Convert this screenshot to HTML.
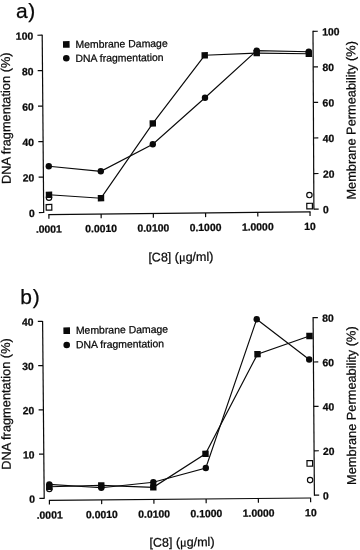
<!DOCTYPE html>
<html><head><meta charset="utf-8"><title>Figure</title>
<style>
html,body{margin:0;padding:0;background:#fff;}
body{width:360px;height:550px;overflow:hidden;}
svg{display:block;will-change:transform;opacity:0.999;filter:blur(0.35px);}
text{font-family:"Liberation Sans",sans-serif;fill:#0a0a0a;stroke:#0a0a0a;stroke-width:0.25px;}
</style></head><body>
<svg width="360" height="550" viewBox="0 0 360 550">
<rect x="0" y="0" width="360" height="550" fill="#fff"/>
<line x1="42.20" y1="34.70" x2="43.70" y2="213.00" stroke="#0a0a0a" stroke-width="1.2"/>
<line x1="313.00" y1="30.80" x2="313.90" y2="209.60" stroke="#0a0a0a" stroke-width="1.2"/>
<line x1="48.40" y1="214.60" x2="310.50" y2="211.80" stroke="#0a0a0a" stroke-width="1.2"/>
<line x1="42.20" y1="35.20" x2="37.40" y2="35.26" stroke="#0a0a0a" stroke-width="1.2"/>
<text font-size="10.4" font-weight="bold" text-anchor="end" transform="translate(33.20 39.60) rotate(-0.7) scale(1.0 1)" >100</text>
<line x1="42.50" y1="70.66" x2="37.70" y2="70.72" stroke="#0a0a0a" stroke-width="1.2"/>
<text font-size="10.4" font-weight="bold" text-anchor="end" transform="translate(33.50 75.06) rotate(-0.7) scale(1.0 1)" >80</text>
<line x1="42.80" y1="106.12" x2="38.00" y2="106.18" stroke="#0a0a0a" stroke-width="1.2"/>
<text font-size="10.4" font-weight="bold" text-anchor="end" transform="translate(33.80 110.52) rotate(-0.7) scale(1.0 1)" >60</text>
<line x1="43.10" y1="141.58" x2="38.30" y2="141.64" stroke="#0a0a0a" stroke-width="1.2"/>
<text font-size="10.4" font-weight="bold" text-anchor="end" transform="translate(34.10 145.98) rotate(-0.7) scale(1.0 1)" >40</text>
<line x1="43.40" y1="177.04" x2="38.60" y2="177.10" stroke="#0a0a0a" stroke-width="1.2"/>
<text font-size="10.4" font-weight="bold" text-anchor="end" transform="translate(34.40 181.44) rotate(-0.7) scale(1.0 1)" >20</text>
<line x1="43.70" y1="212.50" x2="38.90" y2="212.56" stroke="#0a0a0a" stroke-width="1.2"/>
<text font-size="10.4" font-weight="bold" text-anchor="end" transform="translate(34.70 216.90) rotate(-0.7) scale(1.0 1)" >0</text>
<line x1="313.00" y1="31.30" x2="317.80" y2="31.24" stroke="#0a0a0a" stroke-width="1.2"/>
<text font-size="10.4" font-weight="bold" text-anchor="start" transform="translate(322.30 35.50) rotate(-0.7) scale(1.0 1)" >100</text>
<line x1="313.18" y1="66.86" x2="317.98" y2="66.80" stroke="#0a0a0a" stroke-width="1.2"/>
<text font-size="10.4" font-weight="bold" text-anchor="start" transform="translate(322.46 71.06) rotate(-0.7) scale(1.0 1)" >80</text>
<line x1="313.36" y1="102.42" x2="318.16" y2="102.36" stroke="#0a0a0a" stroke-width="1.2"/>
<text font-size="10.4" font-weight="bold" text-anchor="start" transform="translate(322.62 106.62) rotate(-0.7) scale(1.0 1)" >60</text>
<line x1="313.54" y1="137.98" x2="318.34" y2="137.92" stroke="#0a0a0a" stroke-width="1.2"/>
<text font-size="10.4" font-weight="bold" text-anchor="start" transform="translate(322.78 142.18) rotate(-0.7) scale(1.0 1)" >40</text>
<line x1="313.72" y1="173.54" x2="318.52" y2="173.48" stroke="#0a0a0a" stroke-width="1.2"/>
<text font-size="10.4" font-weight="bold" text-anchor="start" transform="translate(322.94 177.74) rotate(-0.7) scale(1.0 1)" >20</text>
<line x1="313.90" y1="209.10" x2="318.70" y2="209.04" stroke="#0a0a0a" stroke-width="1.2"/>
<text font-size="10.4" font-weight="bold" text-anchor="start" transform="translate(323.10 213.30) rotate(-0.7) scale(1.0 1)" >0</text>
<line x1="48.90" y1="214.60" x2="48.94" y2="218.80" stroke="#0a0a0a" stroke-width="1.2"/>
<text font-size="10.4" font-weight="bold" text-anchor="middle" transform="translate(48.90 232.70) rotate(-0.7) scale(1.0 1)" >.0001</text>
<line x1="101.12" y1="214.04" x2="101.16" y2="218.24" stroke="#0a0a0a" stroke-width="1.2"/>
<text font-size="10.4" font-weight="bold" text-anchor="middle" transform="translate(101.12 232.14) rotate(-0.7) scale(1.0 1)" >0.0010</text>
<line x1="153.34" y1="213.48" x2="153.38" y2="217.68" stroke="#0a0a0a" stroke-width="1.2"/>
<text font-size="10.4" font-weight="bold" text-anchor="middle" transform="translate(153.34 231.58) rotate(-0.7) scale(1.0 1)" >0.0100</text>
<line x1="205.56" y1="212.92" x2="205.60" y2="217.12" stroke="#0a0a0a" stroke-width="1.2"/>
<text font-size="10.4" font-weight="bold" text-anchor="middle" transform="translate(205.56 231.02) rotate(-0.7) scale(1.0 1)" >0.1000</text>
<line x1="257.78" y1="212.36" x2="257.82" y2="216.56" stroke="#0a0a0a" stroke-width="1.2"/>
<text font-size="10.4" font-weight="bold" text-anchor="middle" transform="translate(257.78 230.46) rotate(-0.7) scale(1.0 1)" >1.0000</text>
<line x1="310.00" y1="211.80" x2="310.04" y2="216.00" stroke="#0a0a0a" stroke-width="1.2"/>
<text font-size="10.4" font-weight="bold" text-anchor="middle" transform="translate(310.00 229.90) rotate(-0.7) scale(1.0 1)" >10</text>
<polyline fill="none" stroke="#0a0a0a" stroke-width="1.15" points="49.00,194.80 101.00,198.20 152.80,123.40 204.70,55.30 256.70,53.10 308.80,53.80"/>
<polyline fill="none" stroke="#0a0a0a" stroke-width="1.15" points="48.80,166.30 100.80,171.30 152.80,144.30 205.00,97.80 256.70,50.60 308.80,51.80"/>
<circle cx="49.00" cy="197.70" r="2.7" fill="#fff" stroke="#0a0a0a" stroke-width="1.15"/>
<rect x="46.20" y="204.50" width="5.6" height="5.6" fill="#fff" stroke="#0a0a0a" stroke-width="1.2" transform="rotate(-0.7 49.00 207.30)"/>
<circle cx="309.40" cy="195.00" r="2.7" fill="#fff" stroke="#0a0a0a" stroke-width="1.15"/>
<rect x="306.80" y="203.30" width="5.6" height="5.6" fill="#fff" stroke="#0a0a0a" stroke-width="1.2" transform="rotate(-0.7 309.60 206.10)"/>
<circle cx="48.80" cy="166.30" r="3.2" fill="#0a0a0a"/>
<circle cx="100.80" cy="171.30" r="3.2" fill="#0a0a0a"/>
<circle cx="152.80" cy="144.30" r="3.2" fill="#0a0a0a"/>
<circle cx="205.00" cy="97.80" r="3.2" fill="#0a0a0a"/>
<circle cx="256.70" cy="50.60" r="3.2" fill="#0a0a0a"/>
<circle cx="308.80" cy="51.80" r="3.2" fill="#0a0a0a"/>
<rect x="45.80" y="191.60" width="6.4" height="6.4" fill="#0a0a0a" transform="rotate(-0.7 49.00 194.80)"/>
<rect x="97.80" y="195.00" width="6.4" height="6.4" fill="#0a0a0a" transform="rotate(-0.7 101.00 198.20)"/>
<rect x="149.60" y="120.20" width="6.4" height="6.4" fill="#0a0a0a" transform="rotate(-0.7 152.80 123.40)"/>
<rect x="201.50" y="52.10" width="6.4" height="6.4" fill="#0a0a0a" transform="rotate(-0.7 204.70 55.30)"/>
<rect x="253.50" y="49.90" width="6.4" height="6.4" fill="#0a0a0a" transform="rotate(-0.7 256.70 53.10)"/>
<rect x="305.60" y="50.60" width="6.4" height="6.4" fill="#0a0a0a" transform="rotate(-0.7 308.80 53.80)"/>
<rect x="63.00" y="41.10" width="6.6" height="6.6" fill="#0a0a0a" transform="rotate(-0.7 66.30 44.40)"/>
<circle cx="66.30" cy="58.30" r="3.3" fill="#0a0a0a"/>
<text font-size="10.45" font-weight="normal" text-anchor="start" transform="translate(75.50 48.00) rotate(-0.7) scale(1.0 1)" >Membrane Damage</text>
<text font-size="10.45" font-weight="normal" text-anchor="start" transform="translate(75.50 62.00) rotate(-0.7) scale(1.0 1)" >DNA fragmentation</text>
<text x="10.70" y="184.00" font-size="12.8" transform="rotate(-90.4 10.70 184.00)" >DNA fragmentation (%)</text>
<text x="355.80" y="199.60" font-size="12.8" transform="rotate(-90.2 355.80 199.60)" >Membrane Permeability (%)</text>
<text x="148.40" y="261.60" font-size="12.5" transform="rotate(-0.7 148.40 261.60)">[C8] (<tspan font-family="Liberation Serif" font-size="12.5">μ</tspan>g/ml)</text>
<text x="15.90" y="18.00" font-size="21" letter-spacing="0.8">a)</text>
<line x1="42.60" y1="320.90" x2="44.20" y2="498.80" stroke="#0a0a0a" stroke-width="1.2"/>
<line x1="313.10" y1="317.10" x2="314.40" y2="495.70" stroke="#0a0a0a" stroke-width="1.2"/>
<line x1="48.90" y1="500.40" x2="311.10" y2="498.00" stroke="#0a0a0a" stroke-width="1.2"/>
<line x1="42.60" y1="321.40" x2="37.80" y2="321.46" stroke="#0a0a0a" stroke-width="1.2"/>
<text font-size="10.4" font-weight="bold" text-anchor="end" transform="translate(33.50 325.70) rotate(-0.7) scale(1.0 1)" >40</text>
<line x1="43.00" y1="365.62" x2="38.20" y2="365.69" stroke="#0a0a0a" stroke-width="1.2"/>
<text font-size="10.4" font-weight="bold" text-anchor="end" transform="translate(33.88 369.93) rotate(-0.7) scale(1.0 1)" >30</text>
<line x1="43.40" y1="409.85" x2="38.60" y2="409.91" stroke="#0a0a0a" stroke-width="1.2"/>
<text font-size="10.4" font-weight="bold" text-anchor="end" transform="translate(34.25 414.15) rotate(-0.7) scale(1.0 1)" >20</text>
<line x1="43.80" y1="454.07" x2="39.00" y2="454.13" stroke="#0a0a0a" stroke-width="1.2"/>
<text font-size="10.4" font-weight="bold" text-anchor="end" transform="translate(34.62 458.38) rotate(-0.7) scale(1.0 1)" >10</text>
<line x1="44.20" y1="498.30" x2="39.40" y2="498.36" stroke="#0a0a0a" stroke-width="1.2"/>
<text font-size="10.4" font-weight="bold" text-anchor="end" transform="translate(35.00 502.60) rotate(-0.7) scale(1.0 1)" >0</text>
<line x1="313.10" y1="317.60" x2="317.90" y2="317.54" stroke="#0a0a0a" stroke-width="1.2"/>
<text font-size="10.4" font-weight="bold" text-anchor="start" transform="translate(322.30 321.80) rotate(-0.7) scale(1.0 1)" >80</text>
<line x1="313.43" y1="362.00" x2="318.23" y2="361.94" stroke="#0a0a0a" stroke-width="1.2"/>
<text font-size="10.4" font-weight="bold" text-anchor="start" transform="translate(322.50 366.20) rotate(-0.7) scale(1.0 1)" >60</text>
<line x1="313.75" y1="406.40" x2="318.55" y2="406.34" stroke="#0a0a0a" stroke-width="1.2"/>
<text font-size="10.4" font-weight="bold" text-anchor="start" transform="translate(322.70 410.60) rotate(-0.7) scale(1.0 1)" >40</text>
<line x1="314.07" y1="450.80" x2="318.88" y2="450.74" stroke="#0a0a0a" stroke-width="1.2"/>
<text font-size="10.4" font-weight="bold" text-anchor="start" transform="translate(322.90 455.00) rotate(-0.7) scale(1.0 1)" >20</text>
<line x1="314.40" y1="495.20" x2="319.20" y2="495.14" stroke="#0a0a0a" stroke-width="1.2"/>
<text font-size="10.4" font-weight="bold" text-anchor="start" transform="translate(323.10 499.40) rotate(-0.7) scale(1.0 1)" >0</text>
<line x1="49.40" y1="500.40" x2="49.44" y2="504.60" stroke="#0a0a0a" stroke-width="1.2"/>
<text font-size="10.4" font-weight="bold" text-anchor="middle" transform="translate(49.70 518.60) rotate(-0.7) scale(1.0 1)" >.0001</text>
<line x1="101.64" y1="499.92" x2="101.68" y2="504.12" stroke="#0a0a0a" stroke-width="1.2"/>
<text font-size="10.4" font-weight="bold" text-anchor="middle" transform="translate(101.94 518.12) rotate(-0.7) scale(1.0 1)" >0.0010</text>
<line x1="153.88" y1="499.44" x2="153.92" y2="503.64" stroke="#0a0a0a" stroke-width="1.2"/>
<text font-size="10.4" font-weight="bold" text-anchor="middle" transform="translate(154.18 517.64) rotate(-0.7) scale(1.0 1)" >0.0100</text>
<line x1="206.12" y1="498.96" x2="206.16" y2="503.16" stroke="#0a0a0a" stroke-width="1.2"/>
<text font-size="10.4" font-weight="bold" text-anchor="middle" transform="translate(206.42 517.16) rotate(-0.7) scale(1.0 1)" >0.1000</text>
<line x1="258.36" y1="498.48" x2="258.40" y2="502.68" stroke="#0a0a0a" stroke-width="1.2"/>
<text font-size="10.4" font-weight="bold" text-anchor="middle" transform="translate(258.66 516.68) rotate(-0.7) scale(1.0 1)" >1.0000</text>
<line x1="310.60" y1="498.00" x2="310.64" y2="502.20" stroke="#0a0a0a" stroke-width="1.2"/>
<text font-size="10.4" font-weight="bold" text-anchor="middle" transform="translate(310.90 516.20) rotate(-0.7) scale(1.0 1)" >10</text>
<polyline fill="none" stroke="#0a0a0a" stroke-width="1.15" points="49.30,486.80 101.30,485.40 153.30,487.30 205.50,453.80 257.50,354.20 309.50,336.00"/>
<polyline fill="none" stroke="#0a0a0a" stroke-width="1.15" points="49.30,484.40 101.30,487.70 153.30,482.30 205.80,468.00 256.70,319.20 309.20,359.50"/>
<circle cx="49.30" cy="489.00" r="2.7" fill="#fff" stroke="#0a0a0a" stroke-width="1.15"/>
<circle cx="310.10" cy="480.10" r="2.7" fill="#fff" stroke="#0a0a0a" stroke-width="1.15"/>
<rect x="307.00" y="460.60" width="5.6" height="5.6" fill="#fff" stroke="#0a0a0a" stroke-width="1.2" transform="rotate(-0.7 309.80 463.40)"/>
<circle cx="49.30" cy="484.40" r="3.2" fill="#0a0a0a"/>
<circle cx="101.30" cy="487.70" r="3.2" fill="#0a0a0a"/>
<circle cx="153.30" cy="482.30" r="3.2" fill="#0a0a0a"/>
<circle cx="205.80" cy="468.00" r="3.2" fill="#0a0a0a"/>
<circle cx="256.70" cy="319.20" r="3.2" fill="#0a0a0a"/>
<circle cx="309.20" cy="359.50" r="3.2" fill="#0a0a0a"/>
<rect x="46.10" y="483.60" width="6.4" height="6.4" fill="#0a0a0a" transform="rotate(-0.7 49.30 486.80)"/>
<rect x="98.10" y="482.20" width="6.4" height="6.4" fill="#0a0a0a" transform="rotate(-0.7 101.30 485.40)"/>
<rect x="150.10" y="484.10" width="6.4" height="6.4" fill="#0a0a0a" transform="rotate(-0.7 153.30 487.30)"/>
<rect x="202.30" y="450.60" width="6.4" height="6.4" fill="#0a0a0a" transform="rotate(-0.7 205.50 453.80)"/>
<rect x="254.30" y="351.00" width="6.4" height="6.4" fill="#0a0a0a" transform="rotate(-0.7 257.50 354.20)"/>
<rect x="306.30" y="332.80" width="6.4" height="6.4" fill="#0a0a0a" transform="rotate(-0.7 309.50 336.00)"/>
<rect x="63.40" y="327.40" width="6.6" height="6.6" fill="#0a0a0a" transform="rotate(-0.7 66.70 330.70)"/>
<circle cx="66.70" cy="345.00" r="3.3" fill="#0a0a0a"/>
<text font-size="10.45" font-weight="normal" text-anchor="start" transform="translate(75.90 333.90) rotate(-0.7) scale(1.0 1)" >Membrane Damage</text>
<text font-size="10.45" font-weight="normal" text-anchor="start" transform="translate(75.90 348.30) rotate(-0.7) scale(1.0 1)" >DNA fragmentation</text>
<text x="10.80" y="469.80" font-size="12.8" transform="rotate(-90.4 10.80 469.80)" >DNA fragmentation (%)</text>
<text x="356.10" y="484.90" font-size="12.8" transform="rotate(-90.2 356.10 484.90)" >Membrane Permeability (%)</text>
<text x="149.50" y="546.80" font-size="12.5" transform="rotate(-0.7 149.50 546.80)">[C8] (<tspan font-family="Liberation Serif" font-size="12.5">μ</tspan>g/ml)</text>
<text x="20.30" y="304.20" font-size="21" letter-spacing="0.8">b)</text>
</svg>
</body></html>
